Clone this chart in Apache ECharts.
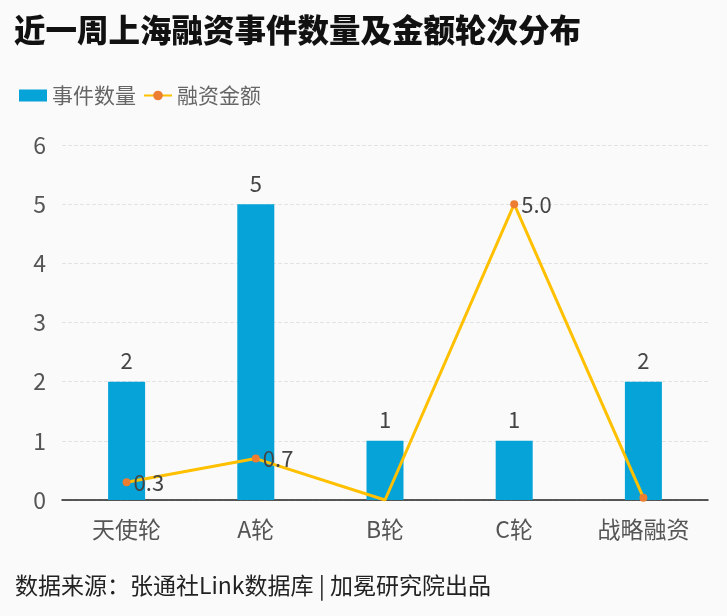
<!DOCTYPE html>
<html><head><meta charset="utf-8">
<script src="https://cdn.jsdelivr.net/npm/echarts@6/dist/echarts.min.js"></script>
<style>html,body{margin:0;padding:0;background:#fafafa}#c{width:727px;height:616px}</style>
</head><body><div id="c"></div>
<script>
const categories = ['天使轮', 'A轮', 'B轮', 'C轮', '战略融资'];
const eventCounts = [2, 5, 1, 1, 2];
const amounts = [0.3, 0.7, 0, 5.0, 0.04];
const yTicks = [0, 1, 2, 3, 4, 5, 6];

const font = '"Noto Sans CJK SC", "Noto Sans", sans-serif';
const chart = echarts.init(document.getElementById('c'));
chart.setOption({
  backgroundColor: '#fafafa',
  textStyle: { fontFamily: font },
  title: [{
    text: '近一周上海融资事件数量及金额轮次分布', left: 9, top: 9,
    textStyle: { fontSize: 31.5, fontWeight: 900, color: '#111', fontFamily: font }
  }, {
    text: '数据来源：张通社Link数据库 | 加冕研究院出品', left: 10, top: 569,
    textStyle: { fontSize: 23, fontWeight: 'normal', color: '#222', fontFamily: font }
  }],
  legend: {
    left: 14, top: 80, itemGap: 7, itemWidth: 28, itemHeight: 12,
    textStyle: { fontSize: 21, color: '#666', fontFamily: font },
    data: [{ name: '事件数量', icon: 'rect' }, { name: '融资金额' }]
  },
  grid: { left: 62, right: 19, top: 145, bottom: 116 },
  xAxis: {
    type: 'category', data: categories,
    axisTick: { show: false },
    axisLine: { lineStyle: { color: '#222', width: 1.5 } },
    axisLabel: { fontSize: 23, color: '#555', margin: 18, fontFamily: font }
  },
  yAxis: {
    type: 'value', min: 0, max: 6, interval: 1,
    axisLabel: { fontSize: 23, color: '#555', margin: 16, fontFamily: font,
      formatter: v => yTicks.includes(v) ? String(v) : '' },
    splitLine: { lineStyle: { type: 'dashed', color: '#e3e3e3' } }
  },
  series: [{
    name: '事件数量', type: 'bar', data: eventCounts, barWidth: 37,
    itemStyle: { color: '#05A3D8' },
    label: { show: true, position: 'top', distance: 10, fontSize: 22, color: '#444' }
  }, {
    name: '融资金额', type: 'line', data: amounts,
    lineStyle: { color: '#FFC000', width: 3 },
    itemStyle: { color: '#ED7D31' },
    symbol: 'circle',
    symbolSize: v => v === 0 ? 0 : 8,
    label: { show: true, position: 'right', distance: 3, fontSize: 22, color: '#444',
      formatter: p => p.value >= 0.1 ? p.value.toFixed(1) : '' }
  }]
});
</script></body></html>
